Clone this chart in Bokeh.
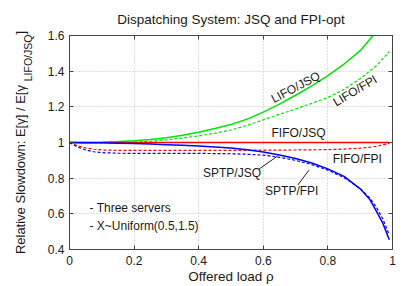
import math
from bokeh.plotting import figure
from bokeh.models import Range1d, LinearAxis, FixedTicker, Label
from bokeh.embed import file_html
from bokeh.resources import INLINE

# ---------------- data ----------------
rho_lifo_jsq = [0, 0.05, 0.1, 0.15, 0.2, 0.25, 0.3, 0.35, 0.4, 0.45, 0.5, 0.55, 0.6, 0.65, 0.7, 0.75, 0.8, 0.85, 0.9, 0.94, 0.96]
lifo_jsq = [1.000, 1.000, 1.002, 1.005, 1.010, 1.017, 1.027, 1.041, 1.058, 1.078, 1.101, 1.131, 1.170, 1.215, 1.265, 1.318, 1.375, 1.440, 1.515, 1.600, 1.66]

rho_lifo_fpi = [0, 0.05, 0.1, 0.15, 0.2, 0.25, 0.3, 0.35, 0.4, 0.45, 0.5, 0.55, 0.6, 0.65, 0.7, 0.75, 0.8, 0.85, 0.9, 0.95, 0.99]
lifo_fpi = [1.000, 0.998, 0.997, 0.998, 1.001, 1.007, 1.015, 1.025, 1.037, 1.052, 1.070, 1.096, 1.127, 1.158, 1.188, 1.220, 1.252, 1.298, 1.358, 1.430, 1.510]

rho_fifo_jsq = [0, 0.99]
fifo_jsq = [1.0, 1.0]

rho_fifo_fpi = [0, 0.025, 0.05, 0.075, 0.1, 0.15, 0.2, 0.3, 0.4, 0.5, 0.6, 0.7, 0.8, 0.85, 0.9, 0.95, 0.99]
fifo_fpi = [1.000, 0.982, 0.970, 0.962, 0.958, 0.956, 0.956, 0.956, 0.956, 0.956, 0.957, 0.958, 0.960, 0.963, 0.968, 0.978, 0.995]

rho_sptp_jsq = [0, 0.05, 0.1, 0.15, 0.2, 0.25, 0.3, 0.35, 0.4, 0.45, 0.5, 0.55, 0.6, 0.65, 0.7, 0.75, 0.8, 0.85, 0.9, 0.93, 0.95, 0.97, 0.99]
sptp_jsq = [1.000, 0.999, 0.998, 0.996, 0.994, 0.991, 0.988, 0.985, 0.981, 0.975, 0.969, 0.960, 0.947, 0.930, 0.910, 0.885, 0.852, 0.810, 0.740, 0.680, 0.615, 0.548, 0.455]

rho_sptp_fpi = [0, 0.025, 0.05, 0.075, 0.1, 0.15, 0.2, 0.3, 0.4, 0.5, 0.55, 0.6, 0.65, 0.7, 0.75, 0.8, 0.85, 0.9, 0.93, 0.95, 0.97, 0.99]
sptp_fpi = [1.000, 0.975, 0.958, 0.948, 0.943, 0.940, 0.939, 0.939, 0.939, 0.937, 0.934, 0.929, 0.917, 0.900, 0.876, 0.845, 0.803, 0.742, 0.688, 0.637, 0.572, 0.482]

x_ticks = [0, 0.2, 0.4, 0.6, 0.8, 1.0]
x_tick_labels = ["0", "0.2", "0.4", "0.6", "0.8", "1"]
y_ticks = [0.4, 0.6, 0.8, 1.0, 1.2, 1.4, 1.6]
y_tick_labels = ["0.4", "0.6", "0.8", "1", "1.2", "1.4", "1.6"]

title_text = "Dispatching System: JSQ and FPI-opt"
x_label = "Offered load \u03c1"
y_label_main = "Relative Slowdown: E[\u03b3] / E[\u03b3"
y_label_sub = "LIFO/JSQ"
y_label_end = "]"

# curve annotations: text, x, y, angle(deg)
ann_text = ["LIFO/JSQ", "LIFO/FPI", "FIFO/JSQ", "FIFO/FPI", "SPTP/JSQ", "SPTP/FPI"]
ann_x = [0.700, 0.884, 0.709, 0.891, 0.503, 0.688]
ann_y = [1.310, 1.290, 1.054, 0.907, 0.827, 0.729]
ann_angle = [28, 31, 0, 0, 0, 0]

note_text = ["- Three servers", "- X~Uniform(0.5,1.5)"]
note_x = [0.062, 0.062]
note_y = [0.635, 0.531]

lead_x0 = [0.586, 0.707]
lead_y0 = [0.850, 0.762]
lead_x1 = [0.645, 0.741]
lead_y1 = [0.925, 0.844]

FONT = "Liberation Sans"
TXT = "#1a1a1a"
GREEN = "#00e600"
RED = "#ff0000"
BLUE = "#0000ff"
NBSP = "\u00a0"

p = figure(width=409, height=286, output_backend="svg", toolbar_location=None,
           x_range=Range1d(0, 1), y_range=Range1d(0.4, 1.6),
           min_border_left=69, min_border_right=17, min_border_top=34, min_border_bottom=37,
           title=title_text)
p.background_fill_color = "white"
p.border_fill_color = "white"
p.outline_line_color = "#444444"
p.outline_line_width = 1
p.title.align = "center"
p.title.text_font = FONT
p.title.text_font_size = "13.5px"
p.title.text_font_style = "normal"
p.title.text_color = TXT
p.title.standoff = 18

xax = p.xaxis[0]
yax = p.yaxis[0]

# main axes
for ax, ticks, labels in ((xax, x_ticks, x_tick_labels), (yax, y_ticks, y_tick_labels)):
    ax.ticker = FixedTicker(ticks=ticks)
    ax.major_label_overrides = {t: l for t, l in zip(ticks, labels)}
    ax.major_tick_in = 4
    ax.major_tick_out = 0
    ax.minor_tick_line_color = None
    ax.axis_line_color = "#444444"
    ax.major_tick_line_color = "#444444"
    ax.major_label_text_font = FONT
    ax.major_label_text_font_size = "12px"
    ax.major_label_text_color = TXT
    ax.major_label_standoff = 5
    ax.axis_label_text_font = FONT
    ax.axis_label_text_font_style = "normal"
    ax.axis_label_text_color = TXT

xax.major_label_standoff = 6
xax.axis_label = x_label
xax.axis_label_text_font_size = "13.5px"
xax.axis_label_standoff = 1

# y label: main part, gap for the subscript, closing bracket
yax.axis_label = y_label_main + NBSP * 14 + y_label_end
yax.axis_label_text_font_size = "13px"
yax.axis_label_standoff = 17

# subscript of the y label, drawn by a tick-less axis next to it
sub_ax = LinearAxis(ticker=FixedTicker(ticks=[]))
sub_ax.axis_line_color = None
sub_ax.major_tick_line_color = None
sub_ax.minor_tick_line_color = None
sub_ax.major_label_standoff = 0
sub_ax.axis_label = NBSP * 58 + y_label_sub
sub_ax.axis_label_text_font = FONT
sub_ax.axis_label_text_font_size = "10.5px"
sub_ax.axis_label_text_font_style = "normal"
sub_ax.axis_label_text_color = TXT
sub_ax.axis_label_standoff = -24
p.add_layout(sub_ax, "left")

# mirrored axes (ticks only)
for ticks, side in ((y_ticks, "right"), (x_ticks, "above")):
    ax = LinearAxis(ticker=FixedTicker(ticks=ticks))
    ax.major_label_overrides = {t: "" for t in ticks}
    ax.major_tick_in = 4
    ax.major_tick_out = 0
    ax.minor_tick_line_color = None
    ax.axis_line_color = "#444444"
    ax.major_tick_line_color = "#444444"
    ax.major_label_standoff = 0
    p.add_layout(ax, side)

for g, ticks in ((p.xgrid[0], x_ticks), (p.ygrid[0], y_ticks)):
    g.ticker = FixedTicker(ticks=ticks)
    g.grid_line_color = "#c0c0c0"
    g.grid_line_dash = "1 2"
    g.grid_line_width = 1

# curves
p.line(rho_lifo_jsq, lifo_jsq, line_color=GREEN, line_width=1.5)
p.line(rho_lifo_fpi, lifo_fpi, line_color=GREEN, line_width=1.2, line_dash="3 2")
p.line(rho_fifo_jsq, fifo_jsq, line_color=RED, line_width=1.5)
p.line(rho_fifo_fpi, fifo_fpi, line_color=RED, line_width=1.2, line_dash="3 2")
p.line(rho_sptp_jsq, sptp_jsq, line_color=BLUE, line_width=1.5)
p.line(rho_sptp_fpi, sptp_fpi, line_color=BLUE, line_width=1.2, line_dash="3 2")

# leader lines
p.segment(lead_x0, lead_y0, lead_x1, lead_y1, line_color="#222222", line_width=1)

# annotations
for t, x, y, a in zip(ann_text, ann_x, ann_y, ann_angle):
    p.add_layout(Label(x=x, y=y, text=t, angle=math.radians(a), text_align="center",
                       text_baseline="middle", text_font=FONT, text_font_size="12px", text_color=TXT))
for t, x, y in zip(note_text, note_x, note_y):
    p.add_layout(Label(x=x, y=y, text=t, text_align="left", text_baseline="middle",
                       text_font=FONT, text_font_size="12px", text_color=TXT))

open("out.html", "w").write(file_html(p, INLINE))
